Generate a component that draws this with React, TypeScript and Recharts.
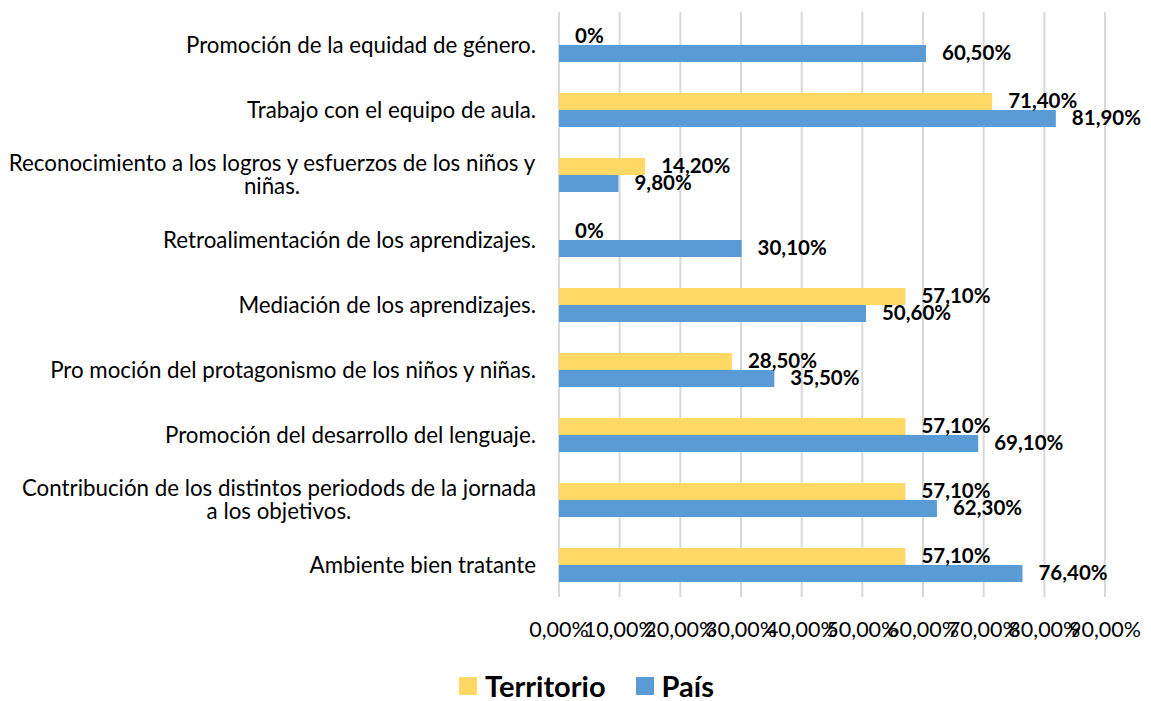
import React from 'react';
import { Bar, BarChart, CartesianGrid, LabelList, XAxis, YAxis } from 'recharts';

const categories = [
  'Promoción de la equidad de género.',
  'Trabajo con el equipo de aula.',
  'Reconocimiento a los logros y esfuerzos de los niños y niñas.',
  'Retroalimentación de los aprendizajes.',
  'Mediación de los aprendizajes.',
  'Pro moción del protagonismo de los niños y niñas.',
  'Promoción del desarrollo del lenguaje.',
  'Contribución de los distintos periodods de la jornada a los objetivos.',
  'Ambiente bien tratante',
];
const territorio = [0, 71.4, 14.2, 0, 57.1, 28.5, 57.1, 57.1, 57.1];
const pais = [60.5, 81.9, 9.8, 30.1, 50.6, 35.5, 69.1, 62.3, 76.4];
const xTicks = [0, 10, 20, 30, 40, 50, 60, 70, 80, 90];

const FONT = 'Lato, "Noto Sans", sans-serif';
const YELLOW = '#FFD966';
const BLUE = '#5B9BD5';
const CAT_SIZE = 22.3;

const data = categories.map((name, i) => ({
  name,
  territorio: territorio[i],
  pais: pais[i],
}));

function pct(v: number) {
  return v === 0 ? '0%' : v.toFixed(2).replace('.', ',') + '%';
}

let ctx: CanvasRenderingContext2D | null = null;
function textWidth(s: string) {
  if (!ctx) ctx = document.createElement('canvas').getContext('2d');
  if (!ctx) return s.length * CAT_SIZE * 0.46;
  ctx.font = `${CAT_SIZE}px ${FONT}`;
  return ctx.measureText(s).width;
}

function wrap(text: string, max = 54) {
  const lines: string[] = [];
  let cur = '';
  for (const w of text.split(' ')) {
    const next = cur ? cur + ' ' + w : w;
    if (next.length > max && cur) {
      lines.push(cur);
      cur = w;
    } else {
      cur = next;
    }
  }
  if (cur) lines.push(cur);
  return lines;
}

function CategoryTick(props: any) {
  const { x, y, payload } = props;
  const lines = wrap(payload.value);
  const lh = 23;
  const start = y - ((lines.length - 1) * lh) / 2 + 2.5;
  const multi = lines.length > 1;
  const blockW = multi ? Math.max(...lines.map(textWidth)) : 0;
  return (
    <g>
      {lines.map((line, i) => (
        <text
          key={i}
          x={multi ? x - blockW / 2 : x}
          y={start + i * lh}
          textAnchor={multi ? 'middle' : 'end'}
          dominantBaseline="middle"
          fontFamily={FONT}
          fontSize={CAT_SIZE}
          fill="#000"
        >
          {line}
        </text>
      ))}
    </g>
  );
}

// País bars carry both labels; Territorio's position comes from the same scale
function ValueLabels(props: any) {
  const { x, y, width, height, index } = props;
  const pxPerUnit = width / pais[index];
  const tX = x + territorio[index] * pxPerUnit;
  const common = {
    dominantBaseline: 'middle' as const,
    fontFamily: FONT,
    fontSize: 20.5,
    fontWeight: 'bold',
    fill: '#000',
  };
  return (
    <g>
      <text x={tX + 16} y={y - height / 2 + 1.5} {...common}>
        {pct(territorio[index])}
      </text>
      <text x={x + width + 16} y={y + height / 2 + 1.5} {...common}>
        {pct(pais[index])}
      </text>
    </g>
  );
}

function LegendBox() {
  const items = [
    { label: 'Territorio', color: YELLOW },
    { label: 'País', color: BLUE },
  ];
  return (
    <div
      style={{
        position: 'absolute',
        left: 459,
        top: 671,
        display: 'flex',
        gap: 30,
        fontFamily: FONT,
        fontSize: 29,
        fontWeight: 'bold',
        color: '#000',
        lineHeight: '29px',
      }}
    >
      {items.map((it) => (
        <div key={it.label} style={{ display: 'flex', alignItems: 'center' }}>
          <span
            style={{
              display: 'inline-block',
              width: 18,
              height: 18,
              background: it.color,
              marginRight: 8,
            }}
          />
          {it.label}
        </div>
      ))}
    </div>
  );
}

export default function App() {
  return (
    <div
      style={{
        margin: '-8px 0 0 -8px',
        width: 1151,
        height: 701,
        background: '#fff',
        position: 'relative',
      }}
    >
      <BarChart
        width={1151}
        height={701}
        data={data}
        layout="vertical"
        margin={{ top: 12, right: 46, bottom: 74, left: 0 }}
        barGap={0}
        barSize={17}
      >
        <CartesianGrid horizontal={false} stroke="#D9D9D9" strokeWidth={2} />
        <XAxis
          type="number"
          domain={[0, 90]}
          ticks={xTicks}
          interval={0}
          height={30}
          axisLine={false}
          tickLine={false}
          tickFormatter={(v: number) => v.toFixed(2).replace('.', ',') + '%'}
          tick={{ fontFamily: FONT, fontSize: 21.5, fill: '#000' }}
          tickMargin={19}
        />
        <YAxis
          type="category"
          dataKey="name"
          width={559}
          axisLine={false}
          tickLine={false}
          interval={0}
          tick={<CategoryTick />}
          tickMargin={17}
        />
        <Bar dataKey="territorio" name="Territorio" fill={YELLOW} isAnimationActive={false} />
        <Bar dataKey="pais" name="País" fill={BLUE} isAnimationActive={false}>
          <LabelList dataKey="pais" content={<ValueLabels />} />
        </Bar>
      </BarChart>
      <LegendBox />
    </div>
  );
}
